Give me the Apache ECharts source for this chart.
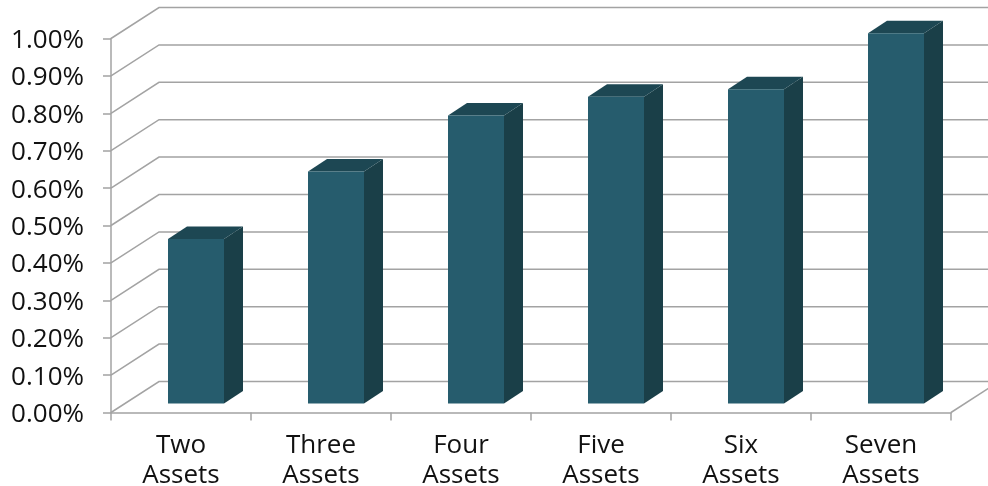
<!DOCTYPE html>
<html><head><meta charset="utf-8">
<style>html,body{margin:0;padding:0;background:#fff}#c{width:988px;height:486px}</style>
<script src="https://cdn.jsdelivr.net/npm/echarts@6/dist/echarts.min.js"></script>
</head><body><div id="c"></div>
<script>
const categories = ['Two\nAssets','Three\nAssets','Four\nAssets','Five\nAssets','Six\nAssets','Seven\nAssets'];
const values = [0.44,0.62,0.77,0.82,0.84,0.99];
const yTicks = [0,0.1,0.2,0.3,0.4,0.5,0.6,0.7,0.8,0.9,1.0];

const FONT = '"Open Sans"';
const GRAY = '#a3a3a3';
const WALL = [48,-31], BAR_SHIFT = [15,-9], BAR_DEPTH = [19,-12.5], BAR_W = 0.4;
const add = (p,o) => [p[0]+o[0], p[1]+o[1]];

const chart = echarts.init(document.getElementById('c'), null, {renderer:'canvas'});
chart.setOption({
  animation:false,
  backgroundColor:'#fff',
  grid:{left:111,right:37,top:38.5,bottom:73.5,containLabel:false,outerBoundsMode:'none'},
  xAxis:[
    {type:'category',data:categories,boundaryGap:true,
     axisLine:{lineStyle:{color:GRAY,width:1.5}},
     axisTick:{show:true,length:8,alignWithLabel:false,lineStyle:{color:GRAY,width:1.5}},
     axisLabel:{fontFamily:FONT,fontSize:26,color:'#111',lineHeight:30,margin:18,interval:0,hideOverlap:false},
     splitLine:{show:false}},
    {type:'value',min:0,max:6,show:false,splitLine:{show:false}}
  ],
  yAxis:{type:'value',min:0,max:1,interval:0.1,
     axisLine:{show:true,lineStyle:{color:GRAY,width:1.5}},
     axisTick:{show:true,length:8,lineStyle:{color:GRAY,width:1.5}},
     axisLabel:{margin:27,
       formatter:v=>'{t|'+v.toFixed(2)+'%}',
       rich:{t:{fontFamily:FONT,fontSize:26,color:'#111',padding:[4,0,0,0]}}},
     splitLine:{show:false}},
  series:[
    {type:'custom',xAxisIndex:1,yAxisIndex:0,coordinateSystem:'cartesian2d',clip:false,silent:true,z:1,
     data:yTicks.map(v=>[v]),
     encode:{x:-1,y:0},
     renderItem(params,api){
       const v=api.value(0);
       const a=api.coord([0,v]), b=add(a,WALL), c=add(api.coord([6,v]),WALL);
       const kids=[{type:'polyline',shape:{points:[a,b,c]},style:{fill:null,stroke:GRAY,lineWidth:1.5}}];
       if(v===0){
         kids.push({type:'line',shape:{x1:api.coord([6,0])[0],y1:api.coord([6,0])[1],x2:c[0],y2:c[1]},style:{stroke:GRAY,lineWidth:1.5}});
       }
       return {type:'group',children:kids};
     }},
    {type:'custom',xAxisIndex:1,yAxisIndex:0,coordinateSystem:'cartesian2d',clip:false,silent:true,z:3,
     data:values.map((v,i)=>[i+0.5,v]),
     encode:{x:0,y:1},
     renderItem(params,api){
       const x=api.value(0), v=api.value(1);
       const tl=add(api.coord([x-BAR_W/2,v]),BAR_SHIFT), tr=add(api.coord([x+BAR_W/2,v]),BAR_SHIFT);
       const bl=add(api.coord([x-BAR_W/2,0]),BAR_SHIFT), br=add(api.coord([x+BAR_W/2,0]),BAR_SHIFT);
       return {type:'group',children:[
         {type:'polygon',shape:{points:[tr,add(tr,BAR_DEPTH),add(br,BAR_DEPTH),br]},style:{fill:'#1a3f48'}},
         {type:'polygon',shape:{points:[tl,add(tl,BAR_DEPTH),add(tr,BAR_DEPTH),tr]},style:{fill:'#1d4753'}},
         {type:'polygon',shape:{points:[tl,tr,br,bl]},style:{fill:'#265c6d'}}
       ]};
     }}
  ]
});
</script></body></html>
